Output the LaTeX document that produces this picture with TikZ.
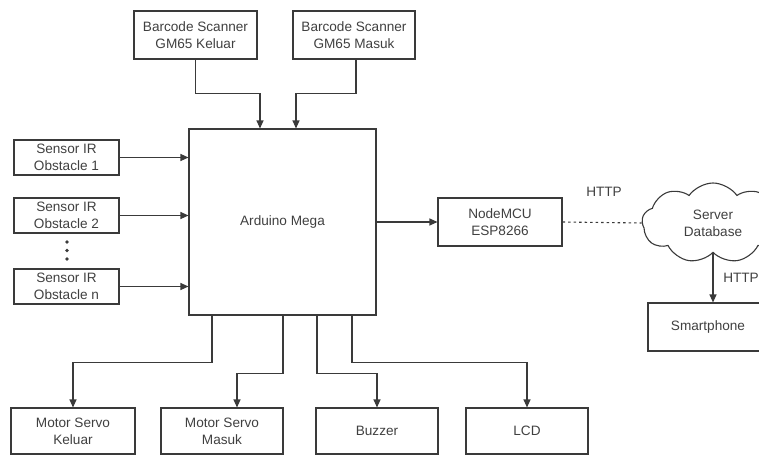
\documentclass[tikz,border=0pt]{standalone}
\usepackage{fontspec}
\setmainfont{Liberation Sans}
\usetikzlibrary{arrows.meta,shapes.symbols}
\definecolor{ln}{HTML}{3A3A3A}
\definecolor{tx}{HTML}{404040}

\begin{document}
\begin{tikzpicture}[x=1pt,y=-1pt,
  box/.style={draw=ln, line width=1.1pt, text=tx, align=center, inner sep=2pt,
    font=\fontsize{13.6}{17}\selectfont},
  arr/.style={draw=ln, line width=1.1pt, -{Triangle[length=8pt,width=7pt]}},
  lbl/.style={text=tx, font=\fontsize{13.6}{16}\selectfont}]
\useasboundingbox (0,0) rectangle (759,455);
%inputs
\node[box, minimum width=123pt, minimum height=48pt] (bcK) at (195.5,35) {Barcode Scanner\\GM65 Keluar};
\node[box, minimum width=122pt, minimum height=48pt] (bcM) at (354,35) {Barcode Scanner\\GM65 Masuk};
\node[box, minimum width=105pt, minimum height=35pt] (ir1) at (66.5,157.5) {Sensor IR\\Obstacle 1};
\node[box, minimum width=105pt, minimum height=35pt] (ir2) at (66.5,215.5) {Sensor IR\\Obstacle 2};
\node[box, minimum width=105pt, minimum height=35pt] (irn) at (66.5,286.5) {Sensor IR\\Obstacle n};
\fill[ln] (67,242) circle (1.8) (67,250.5) circle (1.8) (67,259) circle (1.8);
%controller
\node[box, minimum width=187pt, minimum height=186pt] (mega) at (282.5,222) {Arduino Mega};
\node[box, minimum width=124pt, minimum height=48pt] (mcu) at (500,222) {NodeMCU\\ESP8266};
\node[box, cloud, cloud puffs=9, cloud puff arc=110, aspect=1.8, minimum width=142pt, minimum height=80pt] (srv) at (713,223) {Server\\Database};
\node[box, minimum width=120pt, minimum height=48pt] (hp) at (708,327) {Smartphone};
%outputs
\node[box, minimum width=124pt, minimum height=46pt] (svK) at (73,431) {Motor Servo\\Keluar};
\node[box, minimum width=122pt, minimum height=46pt] (svM) at (222,431) {Motor Servo\\Masuk};
\node[box, minimum width=122pt, minimum height=46pt] (buz) at (377,431) {Buzzer};
\node[box, minimum width=122pt, minimum height=46pt] (lcd) at (527,431) {LCD};
\node[lbl] (h1) at (604,192) {HTTP};
\node[lbl] (h2) at (741,278) {HTTP};

\draw[arr] (bcK.south) -- ++(0,34) -| ([xshift=-22.5pt]mega.north);
\draw[arr] ([xshift=2pt]bcM.south) -- ++(0,34) -| ([xshift=13.5pt]mega.north);
\draw[arr] (ir1) -- (ir1 -| mega.west);
\draw[arr] (ir2) -- (ir2 -| mega.west);
\draw[arr] (irn) -- (irn -| mega.west);
\draw[arr] (mega.east |- mcu) -- (mcu);
\draw[ln, line width=1.1pt, dash pattern=on 2.5pt off 3pt] (mcu.east) -- (srv.west);
\draw[arr] (srv.south) -- (srv.south |- hp.north);
\draw[arr] ([xshift=-70.5pt]mega.south) -- ++(0,47) -| (svK.north);
\draw[arr] ([xshift=0.5pt]mega.south) -- ++(0,58) -| ([xshift=15pt]svM.north);
\draw[arr] ([xshift=34.5pt]mega.south) -- ++(0,58) -| (buz.north);
\draw[arr] ([xshift=69.5pt]mega.south) -- ++(0,47) -| (lcd.north);
\end{tikzpicture}
\end{document}
